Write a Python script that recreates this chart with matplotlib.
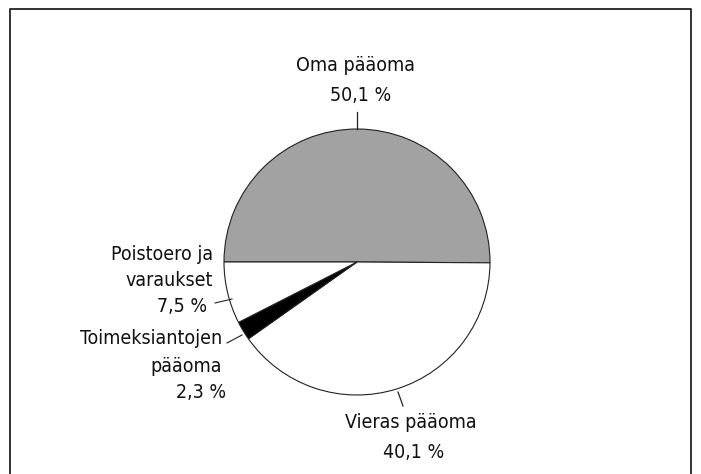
import matplotlib.pyplot as plt
from matplotlib.lines import Line2D

# shares of the balance sheet (clockwise from the left, 9 o'clock)
labels = ["Oma pääoma", "Vieras pääoma", "Toimeksiantojen\npääoma", "Poistoero ja\nvaraukset"]
values = [50.1, 40.1, 2.3, 7.5]
pct_text = ["50,1 %", "40,1 %", "2,3 %", "7,5 %"]
colors = ["#a2a2a2", "white", "black", "white"]

plt.rcParams['font.family'] = ['DejaVu Sans']
plt.rcParams['font.stretch'] = 'condensed'

W, H = 701, 474
fig = plt.figure(figsize=(W / 100, H / 100), dpi=100)
ax = fig.add_axes([0, 0, 1, 1])

# pixel coords, y measured from the top
cx, cy, r = 357, 262, 133
ax.pie(values, colors=colors, startangle=180, counterclock=False,
       center=(cx, H - cy), radius=r, frame=True,
       wedgeprops=dict(edgecolor='#222222', linewidth=0.8))
ax.set_xlim(0, W)
ax.set_ylim(0, H)
ax.set_aspect('equal')
ax.axis('off')

fs = 14
lc = '#222222'

def put(x, y, s, ha):
    ax.text(x, H - y, s, ha=ha, va='center', fontsize=fs, color='#111111')

# Oma pääoma (top)
put(356, 65, labels[0], 'center')
put(361, 95, pct_text[0], 'center')
ax.plot([357, 357], [H - 112, H - 129], color=lc, lw=0.9)

# Vieras pääoma (bottom)
put(411, 422, labels[1], 'center')
put(414, 452, pct_text[1], 'center')
ax.plot([398, 403], [H - 392, H - 406], color=lc, lw=0.9)

# Poistoero ja varaukset (left)
l1, l2 = labels[3].split("\n")
put(213, 254, l1, 'right')
put(213, 280, l2, 'right')
put(207, 307, pct_text[3], 'right')
ax.plot([215, 232], [H - 303, H - 299], color=lc, lw=0.8)

# Toimeksiantojen pääoma (left, lower)
l1, l2 = labels[2].split("\n")
put(222, 338, l1, 'right')
put(222, 366, l2, 'right')
put(226, 393, pct_text[2], 'right')
ax.plot([227, 242], [H - 343, H - 335], color=lc, lw=0.8)

# open frame (scan cropped at the bottom)
frame = Line2D([10, 10, 691, 691], [0, H - 9, H - 9, 0], color=lc, lw=1.3)
ax.add_line(frame)

fig.savefig("out.png", dpi=100)
